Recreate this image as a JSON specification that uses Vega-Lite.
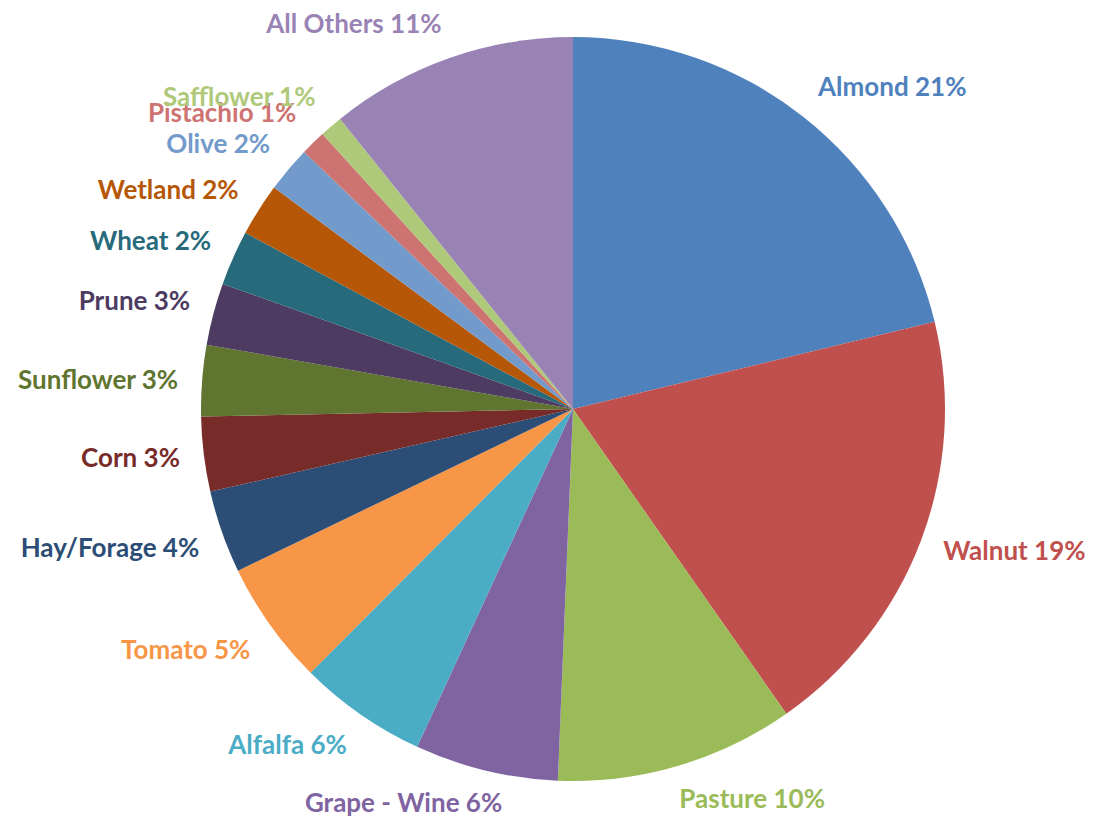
{
  "$schema": "https://vega.github.io/schema/vega-lite/v6.json",
  "width": 1042,
  "height": 818,
  "autosize": {"type": "none"},
  "padding": {"left": 52, "top": 0, "right": 0, "bottom": 0},
  "background": "white",
  "view": {"stroke": null},
  "config": {"text": {"font": "Lato", "fontWeight": "bold", "fontSize": 26, "baseline": "middle", "radius": 396}},
  "data": {
    "values": [
      {"i": 1, "crop": "Almond", "label": "Almond 21%", "value": 21.3},
      {"i": 2, "crop": "Walnut", "label": "Walnut 19%", "value": 19.1},
      {"i": 3, "crop": "Pasture", "label": "Pasture 10%", "value": 10.4},
      {"i": 4, "crop": "Grape - Wine", "label": "Grape - Wine 6%", "value": 6.25},
      {"i": 5, "crop": "Alfalfa", "label": "Alfalfa 6%", "value": 5.6},
      {"i": 6, "crop": "Tomato", "label": "Tomato 5%", "value": 5.4},
      {"i": 7, "crop": "Hay/Forage", "label": "Hay/Forage 4%", "value": 3.6},
      {"i": 8, "crop": "Corn", "label": "Corn 3%", "value": 3.25},
      {"i": 9, "crop": "Sunflower", "label": "Sunflower 3%", "value": 3.1},
      {"i": 10, "crop": "Prune", "label": "Prune 3%", "value": 2.7},
      {"i": 11, "crop": "Wheat", "label": "Wheat 2%", "value": 2.4},
      {"i": 12, "crop": "Wetland", "label": "Wetland 2%", "value": 2.3},
      {"i": 13, "crop": "Olive", "label": "Olive 2%", "value": 2.0},
      {"i": 14, "crop": "Pistachio", "label": "Pistachio 1%", "value": 1.1},
      {"i": 15, "crop": "Safflower", "label": "Safflower 1%", "value": 1.0},
      {"i": 16, "crop": "All Others", "label": "All Others 11%", "value": 10.8}
    ]
  },
  "transform": [
    {"stack": "value", "groupby": [], "sort": [{"field": "i", "order": "ascending"}], "as": ["v0", "v1"]},
    {"calculate": "(datum.v0 + datum.v1) / 2", "as": "mid"}
  ],
  "encoding": {
    "color": {
      "field": "crop",
      "type": "nominal",
      "legend": null,
      "scale": {
        "domain": ["Almond", "Walnut", "Pasture", "Grape - Wine", "Alfalfa", "Tomato", "Hay/Forage", "Corn", "Sunflower", "Prune", "Wheat", "Wetland", "Olive", "Pistachio", "Safflower", "All Others"],
        "range": ["#4F81BD", "#C0504D", "#9BBB59", "#8064A2", "#4BACC6", "#F79646", "#2C4D75", "#772C2A", "#5F7530", "#4D3B62", "#276A7C", "#B65708", "#729ACA", "#CD7371", "#AFC97A", "#9983B5"]
      }
    },
    "theta": {"field": "mid", "type": "quantitative", "stack": null, "scale": {"domain": [0, 100.3], "range": [0, 6.283185307179586]}},
    "text": {"field": "label"}
  },
  "layer": [
    {
      "mark": {"type": "arc", "outerRadius": 372, "stroke": null},
      "encoding": {
        "theta": {"field": "v0", "type": "quantitative", "stack": null},
        "theta2": {"field": "v1"}
      }
    },
    {"transform": [{"filter": "datum.i == 1"}], "mark": {"type": "text", "align": "left", "dy": -10}},
    {"transform": [{"filter": "datum.i == 2"}], "mark": {"type": "text", "align": "left", "dy": 3}},
    {"transform": [{"filter": "datum.i == 3"}], "mark": {"type": "text", "align": "left", "dy": 11, "dx": -5}},
    {"transform": [{"filter": "datum.i == 4"}], "mark": {"type": "text", "align": "right", "dy": 10, "dx": 22}},
    {"transform": [{"filter": "datum.i == 5 || datum.i == 6"}], "mark": {"type": "text", "align": "right", "dy": 12}},
    {"transform": [{"filter": "datum.i == 7"}], "mark": {"type": "text", "align": "right", "dy": 9}},
    {"transform": [{"filter": "datum.i == 8 || datum.i == 9"}], "mark": {"type": "text", "align": "right", "dy": 2}},
    {"transform": [{"filter": "datum.i >= 10 && datum.i <= 12"}], "mark": {"type": "text", "align": "right", "dy": -6}},
    {"transform": [{"filter": "datum.i == 13"}], "mark": {"type": "text", "align": "right", "dy": -9}},
    {"transform": [{"filter": "datum.i == 14"}], "mark": {"type": "text", "align": "right", "dy": -12}},
    {"transform": [{"filter": "datum.i >= 15"}], "mark": {"type": "text", "align": "right", "dy": -10}}
  ]
}
